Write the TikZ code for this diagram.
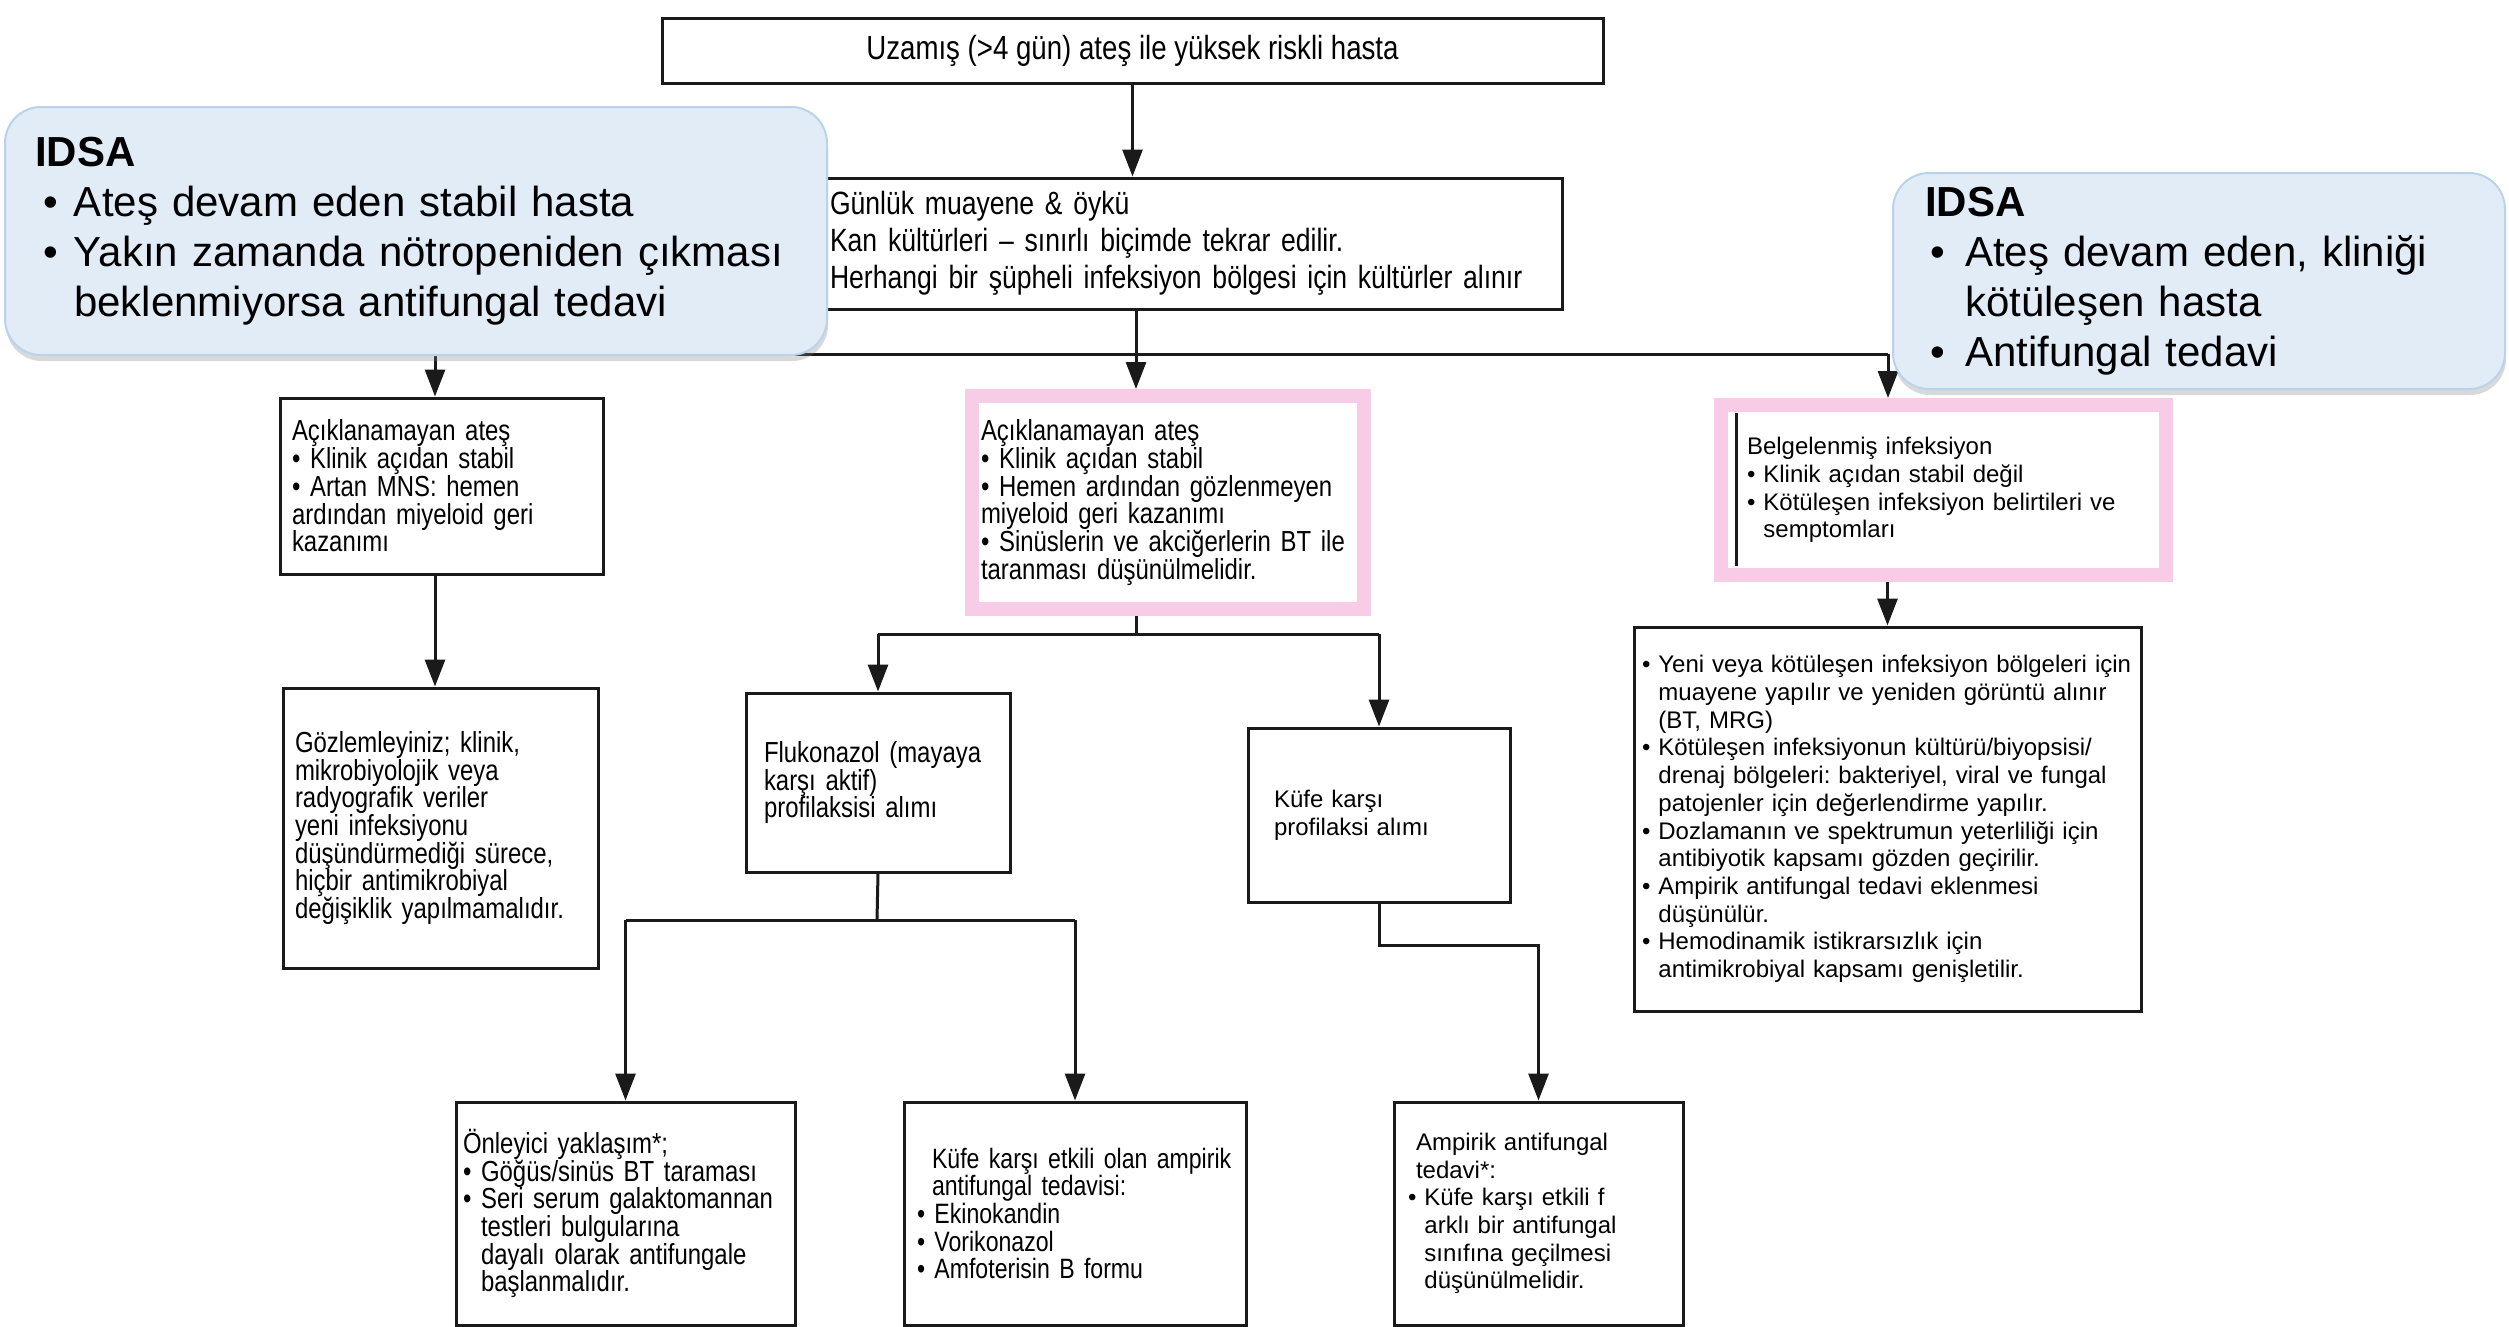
\documentclass[tikz,border=0pt]{standalone}
\usepackage{fontspec}
\setmainfont{Liberation Sans}
\newfontfamily\condfont[FakeStretch=0.825]{Liberation Sans}
\usetikzlibrary{positioning,calc,arrows.meta,shadows}
\definecolor{ink}{HTML}{1A1A1A}
\definecolor{blush}{HTML}{F8CBE7}
\definecolor{note}{HTML}{E2ECF7}
\definecolor{noteline}{HTML}{B9D3EC}
\newcommand{\hin}{\phantom{•\ }}

\begin{document}
\frenchspacing
\begin{tikzpicture}[
      x=1pt,y=-1pt,
      box/.style={draw=ink,line width=3pt,fill=white,rectangle,align=left,inner xsep=12pt,inner ysep=0pt,font={\condfont\fontsize{29}{27.7}\selectfont}},
      plainbox/.style={box,font={\fontsize{24}{27.7}\selectfont}},
      pinkbox/.style={draw=blush,line width=14pt},
      note/.style={draw=noteline,line width=2pt,fill=note,rounded corners=36pt,align=left,inner xsep=30pt,font={\fontsize{42}{50}\selectfont},drop shadow={shadow xshift=1pt,shadow yshift=-6pt,opacity=0.3}},
      lin/.style={ink,line width=3pt},
      arr/.style={lin,-{Triangle[length=27pt,width=20pt]}}]
      \useasboundingbox (0,0) rectangle (2509,1326);
      \node[box,align=center,minimum width=941pt,minimum height=65pt,font={\condfont\fontsize{33.5}{37}\selectfont}] (top) at (1132.5,50.5) {Uzamış (>4 gün) ateş ile yüksek riskli hasta};
      \node[box,minimum width=744pt,minimum height=131pt,text width=720pt,font={\condfont\fontsize{32.2}{37}\selectfont}] (daily) at (1190,243.5) {Günlük muayene \& öykü\\Kan kültürleri – sınırlı biçimde tekrar edilir.\\Herhangi bir şüpheli infeksiyon bölgesi için kültürler alınır};
      \node[box,minimum width=323pt,minimum height=176pt,text width=299pt] (unexpl) at (441.5,486) {Açıklanamayan ateş\\• Klinik açıdan stabil\\• Artan MNS: hemen\\ardından miyeloid geri\\kazanımı};
      \node[box,minimum width=315pt,minimum height=280pt,text width=291pt] (observe) at (440.5,828) {Gözlemleyiniz; klinik,\\mikrobiyolojik veya\\radyografik veriler\\yeni infeksiyonu\\düşündürmediği sürece,\\hiçbir antimikrobiyal\\değişiklik yapılmamalıdır.};
      \node[box,pinkbox,minimum width=392pt,minimum height=213pt,inner xsep=9pt,text width=374pt] (unexplb) at (1168,502.5) {Açıklanamayan ateş\\• Klinik açıdan stabil\\• Hemen ardından gözlenmeyen\\miyeloid geri kazanımı\\• Sinüslerin ve akciğerlerin BT ile\\taranması düşünülmelidir.};
      \node[plainbox,pinkbox,minimum width=445pt,minimum height=170pt,inner xsep=26pt,text width=393pt] (docinf) at (1943.5,490) {Belgelenmiş infeksiyon\\• Klinik açıdan stabil değil\\• Kötüleşen infeksiyon belirtileri ve\\\hin semptomları};
      \node[plainbox,minimum width=507pt,minimum height=384pt,inner xsep=8pt,text width=491pt] (worse) at (1887.5,819) {• Yeni veya kötüleşen infeksiyon bölgeleri için\\\hin muayene yapılır ve yeniden görüntü alınır\\\hin (BT, MRG)\\• Kötüleşen infeksiyonun kültürü/biyopsisi/\\\hin drenaj bölgeleri: bakteriyel, viral ve fungal\\\hin patojenler için değerlendirme yapılır.\\• Dozlamanın ve spektrumun yeterliliği için\\\hin antibiyotik kapsamı gözden geçirilir.\\• Ampirik antifungal tedavi eklenmesi\\\hin düşünülür.\\• Hemodinamik istikrarsızlık için\\\hin antimikrobiyal kapsamı genişletilir.};
      \node[box,minimum width=264pt,minimum height=179pt,inner xsep=18pt,text width=228pt] (fluc) at (878,782.5) {Flukonazol (mayaya\\karşı aktif)\\profilaksisi alımı};
      \node[plainbox,minimum width=262pt,minimum height=174pt,inner xsep=26pt,text width=210pt] (mould) at (1379,815) {Küfe karşı\\profilaksi alımı};
      \node[box,minimum width=339pt,minimum height=223pt,inner xsep=7pt,text width=325pt] (preempt) at (625.5,1213.5) {Önleyici yaklaşım*;\\• Göğüs/sinüs BT taraması\\• Seri serum galaktomannan\\\hin testleri bulgularına\\\hin dayalı olarak antifungale\\\hin başlanmalıdır.};
      \node[box,minimum width=342pt,minimum height=223pt,inner xsep=6pt,text width=330pt,font={\condfont\fontsize{28}{27.7}\selectfont}] (empmould) at (1075,1213.5) {\hspace*{22pt}Küfe karşı etkili olan ampirik\\\hspace*{22pt}antifungal tedavisi:\\\hspace*{7pt}• Ekinokandin\\\hspace*{7pt}• Vorikonazol\\\hspace*{7pt}• Amfoterisin B formu};
      \node[plainbox,minimum width=289pt,minimum height=223pt,inner xsep=14pt,text width=261pt] (empaf) at (1538.5,1213.5) {\hspace*{8pt}Ampirik antifungal\\\hspace*{8pt}tedavi*:\\• Küfe karşı etkili f\\\hin arklı bir antifungal\\\hin sınıfına geçilmesi\\\hin düşünülmelidir.};
      % branching points
      \coordinate (split) at (1136,354);
      \coordinate (lbr) at (435,354);
      \coordinate (rbr) at (1888,354);
      \coordinate (mbr) at (1136,634);
      \coordinate (fbr) at (877,920);
      \draw[arr] (top.south) -- (top.south |- daily.north);
      \draw[lin] (split |- daily.south) -- (split);
      \draw[lin] (lbr) -- (rbr);
      \draw[arr] (lbr) -- (lbr |- unexpl.north);
      \draw[arr] (split) -- (split |- unexplb.north);
      \draw[arr] (rbr) -- (rbr |- docinf.north);
      \draw[arr] (unexpl.south -| lbr) -- (observe.north -| lbr);
      \draw[lin] ([shift={(22,15)}]docinf.north west) -- ([shift={(22,-16)}]docinf.south west);
      \draw[arr] (docinf.south -| worse.north) -- (worse.north);
      \draw[lin] (unexplb.south -| mbr) -- (mbr);
      \draw[lin] (mbr -| fluc.north) -- (mbr -| mould.north);
      \draw[arr] (mbr -| fluc.north) -- (fluc.north);
      \draw[arr] (mbr -| mould.north) -- (mould.north);
      \draw[lin] (fluc.south) -- (fbr);
      \draw[lin] (fbr -| preempt.north) -- (fbr -| empmould.north);
      \draw[arr] (fbr -| preempt.north) -- (preempt.north);
      \draw[arr] (fbr -| empmould.north) -- (empmould.north);
      \draw[arr] (mould.south) -- ++(0,42) -| (empaf.north);
      % IDSA notes
      \node[note,minimum width=822pt,minimum height=248pt,text width=762pt] (idsaleft) at (416,231) {\textbf{IDSA}\\\hspace*{8pt}\makebox[31pt][l]{•}Ateş devam eden stabil hasta\\\hspace*{8pt}\makebox[31pt][l]{•}Yakın zamanda nötropeniden çıkması\\\hspace*{39pt}beklenmiyorsa antifungal tedavi};
      \node[note,minimum width=612pt,minimum height=216pt,inner xsep=32pt,text width=548pt] (idsaright) at (2199,281) {\textbf{IDSA}\\\hspace*{5pt}\makebox[35pt][l]{•}Ateş devam eden, kliniği\\\hspace*{40pt}kötüleşen hasta\\\hspace*{5pt}\makebox[35pt][l]{•}Antifungal tedavi};
    \end{tikzpicture}
\end{document}
